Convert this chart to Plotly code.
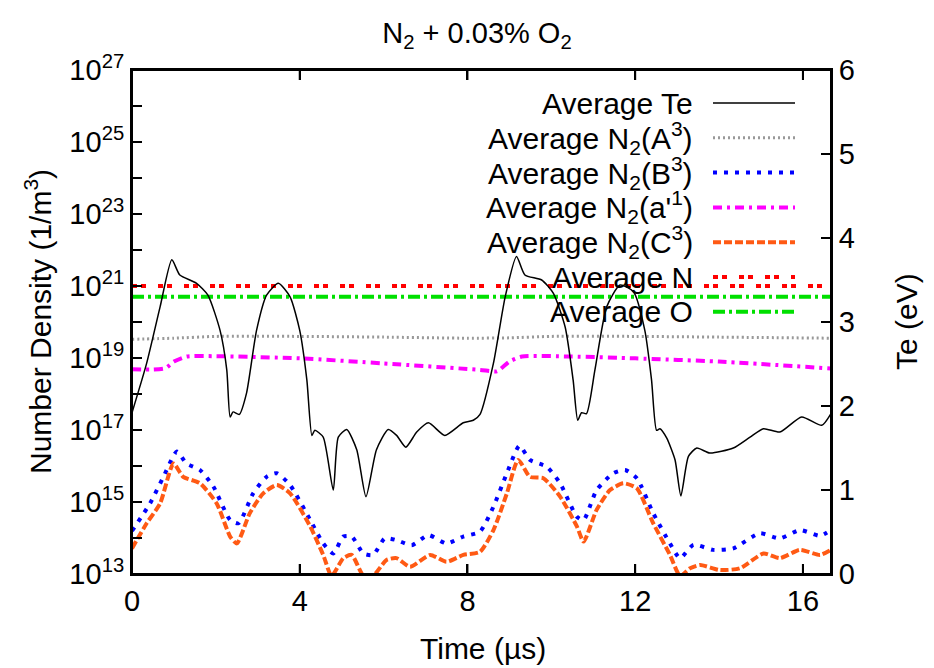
import numpy as np
import plotly.graph_objects as go

# time axis end (us)
t_end = 16.67

# average electron temperature (eV), right axis
t_te = [0.0, 0.35, 0.67, 0.95, 1.14, 1.54, 1.81, 2.1, 2.26, 2.34, 2.41, 2.56, 2.73, 2.97,
        3.21, 3.49, 3.77, 4.0, 4.17, 4.29, 4.36, 4.56, 4.8, 4.92, 5.12, 5.36, 5.58, 5.83,
        6.11, 6.31, 6.53, 6.79, 7.07, 7.46, 7.9, 8.14, 8.3, 8.62, 8.9, 9.17, 9.37, 9.77,
        10.05, 10.33, 10.52, 10.63, 10.72, 10.84, 11.04, 11.32, 11.64, 11.96, 12.23, 12.39,
        12.51, 12.59, 12.75, 12.95, 13.09, 13.27, 13.47, 13.78, 14.34, 14.74, 15.06, 15.45,
        15.97, 16.45, 16.67]
te = [1.92, 2.51, 3.18, 3.74, 3.56, 3.46, 3.32, 2.9, 2.43, 1.87, 1.93, 1.9, 2.15, 2.9,
      3.32, 3.46, 3.3, 2.9, 2.31, 1.65, 1.71, 1.63, 1.0, 1.63, 1.72, 1.48, 0.92, 1.48,
      1.72, 1.65, 1.51, 1.69, 1.8, 1.65, 1.8, 1.83, 1.9, 2.51, 3.3, 3.78, 3.56, 3.5,
      3.34, 2.94, 2.31, 1.83, 1.92, 1.91, 2.43, 3.18, 3.44, 3.36, 2.9, 2.31,
      1.71, 1.73, 1.62, 1.36, 0.93, 1.4, 1.5, 1.44, 1.5, 1.63, 1.73, 1.69,
      1.87, 1.77, 1.91]

# number densities, stored as log10 of 1/m^3
t_a3 = [0.0, 1.0, 2.0, 4.0, 6.0, 8.0, 9.0, 10.0, 12.0, 14.0, 16.67]
a3_log = [19.52, 19.55, 19.6, 19.6, 19.58, 19.55, 19.56, 19.6, 19.6, 19.58, 19.55]

t_b3 = [0.0, 0.43, 0.75, 1.07, 1.3, 1.62, 1.94, 2.34, 2.54, 2.89, 3.21, 3.45, 3.77, 4.25,
        4.56, 4.8, 5.04, 5.24, 5.52, 5.75, 6.03, 6.31, 6.67, 7.07, 7.5, 7.9, 8.3, 8.62,
        8.94, 9.24, 9.49, 9.89, 10.21, 10.61, 10.77, 11.08, 11.48, 11.76, 12.04, 12.43,
        12.83, 13.07, 13.39, 13.86, 14.34, 14.97, 15.45, 15.93, 16.41, 16.67]
b3_log = [14.2, 14.96, 15.7, 16.4, 16.07, 15.89, 15.43, 14.5, 14.41, 15.24, 15.7, 15.8,
          15.47, 14.5, 13.85, 13.57, 14.04, 14.04, 13.57, 13.53, 13.99, 13.94, 13.8, 14.08,
          13.85, 14.04, 14.18, 14.87, 15.8, 16.56, 16.17, 15.98, 15.52, 14.59, 14.5, 15.33,
          15.8, 15.89, 15.66, 14.69, 13.85, 13.44, 13.81, 13.67, 13.71, 14.13, 13.99, 14.22,
          14.06, 14.22]

t_a1 = [0.0, 0.5, 0.8, 1.0, 1.3, 2.0, 4.0, 6.0, 8.3, 8.7, 9.0, 9.3, 10.5, 12.0, 14.0, 16.67]
a1_log = [18.69, 18.68, 18.72, 18.9, 19.04, 19.05, 18.99, 18.85, 18.67, 18.63, 18.9, 19.04,
          19.04, 18.99, 18.9, 18.71]

t_c3 = [0.0, 0.35, 0.67, 0.99, 1.22, 1.62, 2.02, 2.34, 2.5, 2.81, 3.13, 3.45, 3.77, 4.25,
        4.56, 4.76, 5.04, 5.24, 5.52, 5.75, 6.07, 6.31, 6.63, 7.11, 7.5, 7.9, 8.3, 8.62,
        8.94, 9.21, 9.49, 9.81, 10.21, 10.61, 10.77, 11.08, 11.4, 11.72, 12.04, 12.43,
        12.83, 13.07, 13.31, 13.55, 14.02, 14.5, 15.06, 15.45, 15.93, 16.41, 16.67]
c3_log = [13.71, 14.41, 14.96, 16.07, 15.7, 15.52, 14.96, 14.04, 13.85, 14.69, 15.24, 15.47,
          15.24, 14.32, 13.53, 12.95, 13.44, 13.53, 12.95, 12.95, 13.39, 13.44, 13.2, 13.53,
          13.34, 13.53, 13.62, 14.22, 15.24, 16.17, 15.7, 15.66, 15.15, 14.32, 13.9, 14.78,
          15.33, 15.52, 15.38, 14.41, 13.53, 12.95, 13.16, 13.25, 13.11, 13.16, 13.57, 13.44,
          13.67, 13.53, 13.67]

t_flat = [0.0, t_end]
n_avg = [1.0e21, 1.0e21]
o_avg = [5.0e20, 5.0e20]

# axis ticks
x_ticks = [0, 4, 8, 12, 16]
decades = list(range(13, 28))
te_ticks = [0, 1, 2, 3, 4, 5, 6]
te_max = 6

FONT = "Liberation Sans, Arial, Helvetica, sans-serif"

# (label, colour, width, dash)
styles = [
    ("Average Te", "black", 1.5, "solid"),
    ("Average N<sub>2</sub>(A<sup>3</sup>)", "#999999", 3, "2px,3px"),
    ("Average N<sub>2</sub>(B<sup>3</sup>)", "#0000ff", 4, "4px,7px"),
    ("Average N<sub>2</sub>(a'<sup>1</sup>)", "#ff00ff", 4, "9px,5px,3px,5px"),
    ("Average N<sub>2</sub>(C<sup>3</sup>)", "#ff5a14", 4, "8px,3px"),
    ("Average N", "#ff0000", 4, "5px,4px,5px,12px"),
    ("Average O", "#00e000", 4, "12px,4px,3px,4px"),
]

series = [
    (t_te, te, "y2"),
    (t_a3, 10 ** np.array(a3_log), "y"),
    (t_b3, 10 ** np.array(b3_log), "y"),
    (t_a1, 10 ** np.array(a1_log), "y"),
    (t_c3, 10 ** np.array(c3_log), "y"),
    (t_flat, n_avg, "y"),
    (t_flat, o_avg, "y"),
]

fig = go.Figure()
for (name, col, w, dash), (x, y, ax) in zip(styles, series):
    fig.add_trace(go.Scatter(x=x, y=y, yaxis=ax, mode="lines", name=name, showlegend=False,
                             line=dict(color=col, width=w, dash=dash, shape="spline", smoothing=0.6)))

# page is drawn 8px in from the top-left corner, so the plot box is placed for that
ML, MT, MR, MB = 124, 62, 111, 102
PW, PH = 934 - ML - MR, 668 - MT - MB


def px_x(v):
    return (v - 8 - ML) / PW


def px_y(v):
    return (668 - MB + 8 - v) / PH


# hand-made legend: right-aligned text, sample line on the right
for i, (name, col, w, dash) in enumerate(styles):
    yp = px_y(103 + 34.8 * i)
    fig.add_annotation(x=px_x(695), y=yp, xref="paper", yref="paper", text=name, showarrow=False,
                       xanchor="right", yanchor="middle", font=dict(size=30, color="black"))
    fig.add_shape(type="line", xref="paper", yref="paper", x0=px_x(713), x1=px_x(795), y0=yp, y1=yp,
                  opacity=1, line=dict(color=col, width=w, dash=dash))

# inward tick marks drawn as line traces, 10px long
TL = 10
dx = TL * t_end / PW
dy = TL * te_max / PH
tx, ty = [], []
for v in x_ticks:
    tx += [v, v, None, v, v, None]
    ty += [0, dy, None, te_max - dy, te_max, None]
for v in te_ticks:
    tx += [t_end - dx, t_end, None]
    ty += [v, v, None]
fig.add_trace(go.Scatter(x=tx, y=ty, yaxis="y2", mode="lines", showlegend=False,
                         hoverinfo="skip", line=dict(color="black", width=2)))
lx, ly = [], []
for d in decades:
    lx += [0, dx, None]
    ly += [10.0 ** d, 10.0 ** d, None]
fig.add_trace(go.Scatter(x=lx, y=ly, yaxis="y", mode="lines", showlegend=False,
                         hoverinfo="skip", line=dict(color="black", width=2)))

fig.add_shape(type="rect", xref="paper", yref="paper", x0=0, x1=1, y0=0, y1=1, opacity=1,
              fillcolor="rgba(0,0,0,0)", line=dict(color="black", width=2), layer="above")

axis_common = dict(ticks="inside", ticklen=TL, tickwidth=2, tickcolor="black",
                   showline=True, linewidth=2, linecolor="black",
                   showgrid=False, zeroline=False)
fig.update_layout(
    template="none",
    width=934, height=668,
    margin=dict(l=ML, r=MR, t=MT, b=MB),
    paper_bgcolor="white", plot_bgcolor="white",
    font=dict(family=FONT, size=29, color="black"),
    title=dict(text="N<sub>2</sub> + 0.03% O<sub>2</sub>", x=px_x(483), xanchor="center",
               y=1 - (33 - 8) / 668, yanchor="middle", font=dict(size=29)),
    xaxis=dict(range=[0, t_end], tickvals=x_ticks, mirror="ticks", **axis_common),
    yaxis=dict(type="log", range=[13, 27], tickvals=[10.0 ** d for d in decades],
               ticktext=["10<sup>%d</sup>" % d if d % 2 else "" for d in decades], **axis_common),
    yaxis2=dict(range=[0, te_max], tickvals=te_ticks, overlaying="y", side="right", **axis_common),
)

fig.add_annotation(x=px_x(38), y=0.5, xref="paper", yref="paper", textangle=-90, showarrow=False,
                   xanchor="center", yanchor="middle",
                   text="Number Density (1/m<sup>3</sup>)", font=dict(size=30))
fig.add_annotation(x=px_x(906), y=0.5, xref="paper", yref="paper", textangle=-90, showarrow=False,
                   xanchor="center", yanchor="middle", text="Te (eV)", font=dict(size=30))
fig.add_annotation(x=px_x(483), y=px_y(648), xref="paper", yref="paper", showarrow=False,
                   xanchor="center", yanchor="middle", text="Time (µs)", font=dict(size=30))

fig.write_html("out.html")
